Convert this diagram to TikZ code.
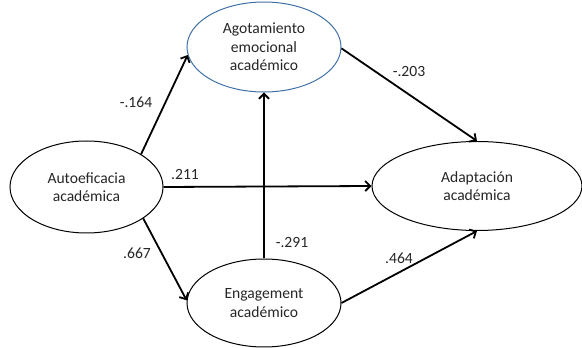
\documentclass[tikz,border=0pt]{standalone}
\usepackage{fontspec}
\setmainfont{Carlito}
\usetikzlibrary{
    shapes.geometric,
    arrows.meta,
    positioning
}
\definecolor{agotblue}{RGB}{65,113,165}

\begin{document}
\begin{tikzpicture}[x=1pt, y=1pt,
        var/.style={ellipse, draw, line width=1pt, inner sep=0pt, align=center,
            font=\fontsize{15.6}{18.5}\selectfont, text=black!85},
        coef/.style={inner sep=0pt, font=\fontsize{15.6}{18.5}\selectfont, text=black!85},
        path/.style={-{Straight Barb[length=5pt, width=10pt]}, line width=1.8pt}]
                        \useasboundingbox (0, 0) rectangle (582, 348);
                        \node[var, minimum width=153pt, minimum height=92pt] (auto) at (86.5, 161) {Autoeficacia\\académica};
                        \node[var, draw=agotblue, minimum width=154pt, minimum height=90pt] (agot) at (264, 301) {Agotamiento\\emocional\\académico};
                        \node[var, minimum width=210pt, minimum height=89pt] (adapt) at (477, 162) {Adaptación\\académica};
                        \node[var, minimum width=154pt, minimum height=88pt] (eng) at (264, 45) {Engagement\\académico};
                        \node[coef] (c164) at (136, 246) {-.164};
                        \node[coef] (c203) at (409, 276) {-.203};
                        \node[coef] (c211) at (185, 173) {.211};
                        \node[coef] (c667) at (137, 95) {.667};
                        \node[coef] (c291) at (292, 105) {-.291};
                        \node[coef] (c464) at (399, 90) {.464};
                        \draw
                        (auto.31) edge[path] (agot.186)
                        (agot.-1) edge[path] (adapt.north)
                        (auto.east) edge[path] (adapt.west)
                        (auto.-29) edge[path] (eng.178)
                        (eng) edge[path] (agot)
                        (eng.east) edge[path] (adapt.south);
                    \end{tikzpicture}
\end{document}
